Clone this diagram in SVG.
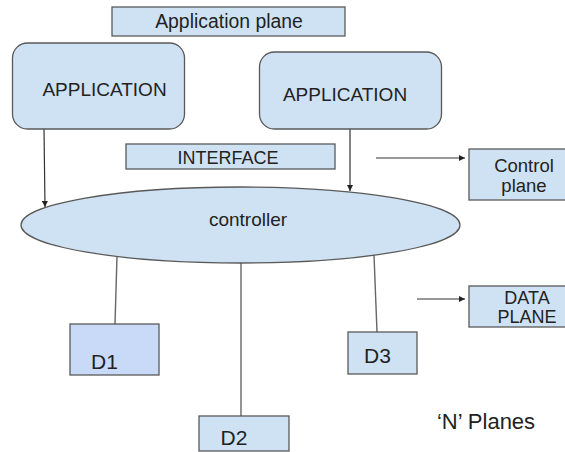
<svg xmlns="http://www.w3.org/2000/svg" width="565" height="452" viewBox="0 0 565 452">
<defs>
<marker id="ah" viewBox="0 0 10 10" refX="10" refY="5" markerWidth="6" markerHeight="6" markerUnits="userSpaceOnUse" orient="auto">
<path d="M0,0 L10,5 L0,10 z" fill="#222"/>
</marker>
<style>
.box{fill:#cfe2f3;stroke:#595959;stroke-width:1.3}
.dbox{fill:#c9daf8;stroke:#595959;stroke-width:1.3}
.t{font-family:"Liberation Sans",Arial,sans-serif;fill:#222;text-anchor:middle}
.ln{stroke:#666;stroke-width:1.4;fill:none}
.ar{stroke:#333;stroke-width:1.2;fill:none;marker-end:url(#ah)}
</style>
</defs>
<rect width="565" height="452" fill="#fff"/>
<g id="connectors">
<path class="ar" d="M44,129 L45,207"/>
<path class="ar" d="M350,129 L350,191"/>
<path class="ar" d="M376,158 L465,158"/>
<path class="ar" d="M417,299 L465,299"/>
<path class="ln" d="M117,256 L115,324"/>
<path class="ln" d="M241,263 L241,416"/>
<path class="ln" d="M374,255 L377,332"/>
</g>
<g id="app-plane">
<rect class="box" x="112" y="7" width="233" height="29"/>
<text class="t" x="229" y="28" font-size="19.4">Application plane</text>
</g>
<g id="app1">
<rect class="box" x="12.5" y="43" width="172" height="86" rx="15"/>
<text class="t" x="104.5" y="96" font-size="19">APPLICATION</text>
</g>
<g id="app2">
<rect class="box" x="259.5" y="52" width="182" height="77" rx="15"/>
<text class="t" x="345" y="101" font-size="19">APPLICATION</text>
</g>
<g id="interface">
<rect class="box" x="126" y="144" width="209" height="25"/>
<text class="t" x="228" y="164" font-size="18">INTERFACE</text>
</g>
<g id="control-plane">
<rect class="box" x="469" y="149" width="110" height="51"/>
<text class="t" x="524" y="172" font-size="18.5">Control</text>
<text class="t" x="524" y="192" font-size="18.5">plane</text>
</g>
<g id="controller">
<ellipse class="box" cx="240.5" cy="225" rx="219.5" ry="38"/>
<text class="t" x="248" y="226" font-size="19">controller</text>
</g>
<g id="data-plane">
<rect class="box" x="469" y="286" width="115" height="41"/>
<text class="t" x="527" y="304" font-size="18">DATA</text>
<text class="t" x="527" y="323" font-size="18">PLANE</text>
</g>
<g id="d1">
<rect class="dbox" x="70" y="324" width="89" height="51"/>
<text class="t" x="104.5" y="369" font-size="21">D1</text>
</g>
<g id="d2">
<rect class="box" x="199" y="416" width="90" height="35"/>
<text class="t" x="234" y="445" font-size="21">D2</text>
</g>
<g id="d3">
<rect class="box" x="348" y="332" width="69" height="42"/>
<text class="t" x="377.5" y="363" font-size="21">D3</text>
</g>
<g id="n-planes">
<text class="t" x="486" y="429" font-size="22">‘N’ Planes</text>
</g>
</svg>
